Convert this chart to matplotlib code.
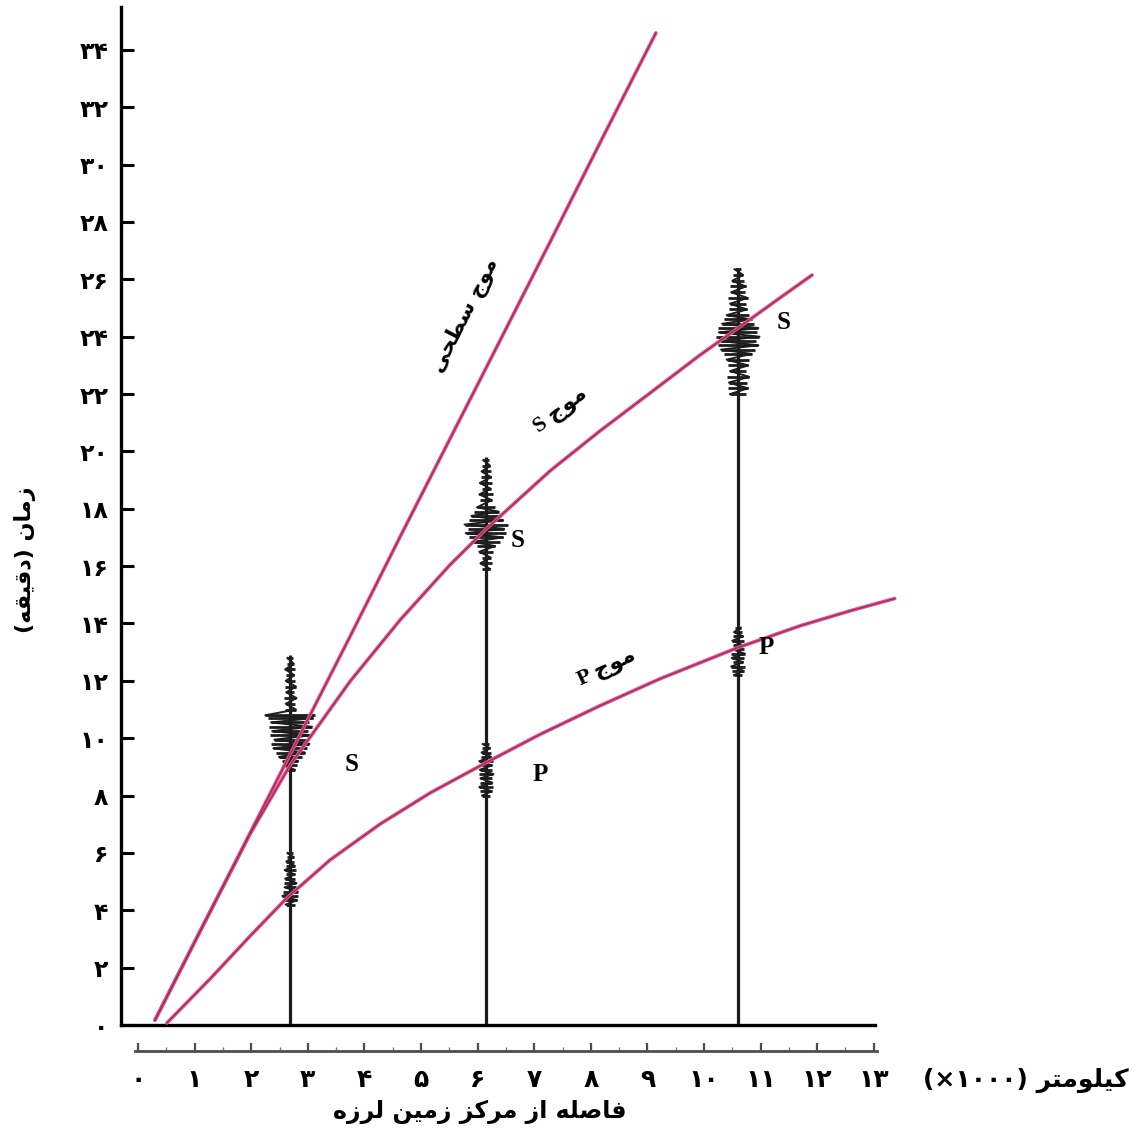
import matplotlib
matplotlib.use("Agg")
import matplotlib.pyplot as plt
from matplotlib.ticker import MultipleLocator

# ---- data (distance x1000 km, time in minutes) ----
surface_x = [0.30, 1.10, 1.98, 2.69, 3.75, 4.63, 5.51, 6.40, 7.28, 8.16, 9.15]
surface_t = [0.17, 3.28, 6.69, 9.45, 13.56, 17.02, 20.43, 23.88, 27.30, 30.75, 34.59]

s_x = [0.30, 1.10, 1.98, 2.69, 3.75, 4.63, 5.51, 6.17, 7.28, 8.16, 9.05, 9.93, 10.60, 11.34, 11.91]
s_t = [0.17, 3.28, 6.66, 9.07, 11.99, 14.12, 16.04, 17.33, 19.32, 20.71, 22.04, 23.36, 24.30, 25.35, 26.15]

p_x = [0.51, 1.27, 1.98, 2.63, 3.39, 4.28, 5.16, 6.17, 7.10, 8.16, 9.22, 10.60, 11.70, 12.58, 13.37]
p_t = [0.07, 1.60, 3.10, 4.43, 5.75, 7.01, 8.09, 9.17, 10.13, 11.13, 12.07, 13.16, 13.92, 14.44, 14.87]

# seismograph stations: distance, top of trace
station_x = [2.69, 6.15, 10.60]
station_top = [12.9, 19.8, 26.4]

# wiggle strokes of every trace: time level and half width
wig1_t = [4.2, 4.35, 4.5, 4.65, 4.8, 4.95, 5.1, 5.25, 5.4, 5.55, 5.7, 5.85, 6.0,
          8.9, 9.05, 9.2, 9.35, 9.5, 9.65, 9.8, 9.95, 10.1, 10.25, 10.4, 10.55, 10.7, 10.8,
          11.0, 11.2, 11.4, 11.6, 11.8, 12.0, 12.2, 12.4, 12.6, 12.8]
wig1_w = [0.08, 0.12, 0.14, 0.13, 0.10, 0.11, 0.09, 0.08, 0.10, 0.08, 0.07, 0.06, 0.05,
          0.08, 0.12, 0.14, 0.20, 0.26, 0.30, 0.34, 0.28, 0.36, 0.32, 0.38, 0.34, 0.40, 0.44,
          0.10, 0.08, 0.11, 0.07, 0.10, 0.08, 0.07, 0.09, 0.06, 0.05]

wig2_t = [8.0, 8.15, 8.3, 8.45, 8.6, 8.75, 8.9, 9.05, 9.2, 9.35, 9.5, 9.65, 9.8,
          15.9, 16.1, 16.3, 16.5, 16.7, 16.85, 17.0, 17.15, 17.3, 17.45, 17.6, 17.75, 17.9, 18.05,
          18.3, 18.5, 18.7, 18.9, 19.1, 19.3, 19.5, 19.7]
wig2_w = [0.07, 0.10, 0.12, 0.11, 0.10, 0.13, 0.11, 0.10, 0.12, 0.09, 0.08, 0.07, 0.06,
          0.07, 0.10, 0.08, 0.12, 0.16, 0.24, 0.30, 0.36, 0.32, 0.38, 0.30, 0.26, 0.22, 0.16,
          0.10, 0.12, 0.08, 0.11, 0.09, 0.08, 0.07, 0.05]

wig3_t = [12.2, 12.35, 12.5, 12.65, 12.8, 12.95, 13.1, 13.25, 13.4, 13.55, 13.7, 13.85,
          22.0, 22.2, 22.4, 22.6, 22.8, 23.0, 23.2, 23.4, 23.55, 23.7, 23.85, 24.0, 24.15,
          24.3, 24.45, 24.6, 24.75, 24.95, 25.15, 25.35, 25.55, 25.75, 25.95, 26.15, 26.35]
wig3_w = [0.07, 0.10, 0.12, 0.09, 0.11, 0.12, 0.10, 0.08, 0.10, 0.09, 0.07, 0.05,
          0.14, 0.18, 0.16, 0.20, 0.14, 0.18, 0.20, 0.24, 0.30, 0.36, 0.32, 0.38, 0.34,
          0.36, 0.28, 0.24, 0.20, 0.16, 0.14, 0.17, 0.12, 0.14, 0.10, 0.09, 0.06]

y_ticks = list(range(0, 35, 2))
x_ticks = list(range(0, 14))

# ---- Persian text helpers (shaping + visual order) ----
FORMS = {
    "ا": ("\uFE8D", "\uFE8E", None, None),
    "ب": ("\uFE8F", "\uFE90", "\uFE91", "\uFE92"),
    "ت": ("\uFE95", "\uFE96", "\uFE97", "\uFE98"),
    "ج": ("\uFE9D", "\uFE9E", "\uFE9F", "\uFEA0"),
    "ح": ("\uFEA1", "\uFEA2", "\uFEA3", "\uFEA4"),
    "د": ("\uFEA9", "\uFEAA", None, None),
    "ر": ("\uFEAD", "\uFEAE", None, None),
    "ز": ("\uFEAF", "\uFEB0", None, None),
    "س": ("\uFEB1", "\uFEB2", "\uFEB3", "\uFEB4"),
    "ص": ("\uFEB9", "\uFEBA", "\uFEBB", "\uFEBC"),
    "ط": ("\uFEC1", "\uFEC2", "\uFEC3", "\uFEC4"),
    "ف": ("\uFED1", "\uFED2", "\uFED3", "\uFED4"),
    "ق": ("\uFED5", "\uFED6", "\uFED7", "\uFED8"),
    "ک": ("\uFB8E", "\uFB8F", "\uFB90", "\uFB91"),
    "ل": ("\uFEDD", "\uFEDE", "\uFEDF", "\uFEE0"),
    "م": ("\uFEE1", "\uFEE2", "\uFEE3", "\uFEE4"),
    "ن": ("\uFEE5", "\uFEE6", "\uFEE7", "\uFEE8"),
    "و": ("\uFEED", "\uFEEE", None, None),
    "ه": ("\uFEE9", "\uFEEA", "\uFEEB", "\uFEEC"),
    "ی": ("\uFBFC", "\uFBFD", "\uFBFE", "\uFBFF"),
}
MIRROR = {"(": ")", ")": "("}
LTR = set("ABCDEFGHIJKLMNOPQRSTUVWXYZabcdefghijklmnopqrstuvwxyz0123456789۰۱۲۳۴۵۶۷۸۹")


def shape(word):
    out = []
    for i, c in enumerate(word):
        if c not in FORMS:
            out.append(c)
            continue
        iso, fin, ini, med = FORMS[c]
        prev = word[i - 1] if i > 0 else ""
        nxt = word[i + 1] if i < len(word) - 1 else ""
        jp = prev in FORMS and FORMS[prev][2] is not None
        jn = nxt in FORMS and ini is not None
        if jp and jn:
            out.append(med)
        elif jp:
            out.append(fin)
        elif jn:
            out.append(ini)
        else:
            out.append(iso)
    return "".join(out)


def fa(text):
    s = shape(text)
    runs = []
    for c in s:
        kind = c in LTR
        if runs and runs[-1][0] == kind:
            runs[-1][1] += c
        else:
            runs.append([kind, c])
    res = ""
    for kind, chunk in reversed(runs):
        if kind:
            res += chunk
        else:
            res += "".join(MIRROR.get(c, c) for c in reversed(chunk))
    return res


def fa_digits(n):
    return "".join("۰۱۲۳۴۵۶۷۸۹"[int(d)] for d in str(n))


PFONT = "DejaVu Sans"
LFONT = "Liberation Serif"
PINK = "#e2508a"
CORE = "#962a58"
INK = "#1c1c1c"

# ---- layout ----
W, H = 1138, 1137
fig = plt.figure(figsize=(W / 100, H / 100), dpi=100)

x_left, x_right = (121 - 138) / 56.6, (895 - 138) / 56.6
ax = fig.add_axes([121 / W, 1 - 1025 / H, (895 - 121) / W, (1025 - 7) / H])
ax.set_xlim(x_left, x_right)
ax.set_ylim(0, (1025 - 7) / 28.68)

for name in ["top", "right"]:
    ax.spines[name].set_visible(False)
ax.spines["left"].set_linewidth(2.4)
ax.spines["bottom"].set_linewidth(2.4)
ax.spines["bottom"].set_bounds(x_left, (875 - 138) / 56.6)

ax.set_xticks([])
ax.set_yticks(y_ticks)
ax.set_yticklabels([fa_digits(v) for v in y_ticks], fontfamily=PFONT,
                   fontweight="bold", fontsize=17)
ax.tick_params(axis="y", direction="in", length=9, width=2.2, pad=9)

# travel-time curves
for xs, ts in [(surface_x, surface_t), (s_x, s_t), (p_x, p_t)]:
    ax.plot(xs, ts, color=PINK, lw=2.6, zorder=3, clip_on=False, solid_capstyle="round")
    ax.plot(xs, ts, color=CORE, lw=0.8, zorder=3.1, clip_on=False)

# seismograph traces
ax.vlines(station_x, 0, station_top, color=INK, lw=2.3, zorder=2)
for sx, wt, ww in [(station_x[0], wig1_t, wig1_w),
                   (station_x[1], wig2_t, wig2_w),
                   (station_x[2], wig3_t, wig3_w)]:
    ax.hlines(wt, [sx - w for w in ww], [sx + w for w in ww],
              color=INK, lw=2.0, zorder=2)
    # zigzag pen stroke, broken where bursts are far apart
    seg_x, seg_t = [], []
    for i, (t, w) in enumerate(zip(wt, ww)):
        if seg_t and t - seg_t[-1] > 0.5:
            ax.plot(seg_x, seg_t, color=INK, lw=1.4, zorder=2)
            seg_x, seg_t = [], []
        seg_x.append(sx + w if i % 2 else sx - w)
        seg_t.append(t)
    ax.plot(seg_x, seg_t, color=INK, lw=1.4, zorder=2)

# arrival letters
for lx, ly, s in [(3.78, 9.07, "S"), (6.71, 16.91, "S"), (11.40, 24.48, "S"),
                  (7.10, 8.72, "P"), (11.10, 13.15, "P")]:
    ax.text(lx, ly, s, fontfamily=LFONT, fontweight="bold", fontsize=18,
            ha="center", va="center", zorder=4)

# curve names
mixed = [LFONT, PFONT]
ax.text(5.78, 24.76, fa("موج سطحی"), rotation=63, fontfamily=PFONT,
        fontweight="bold", fontsize=15, ha="center", va="center")
ax.text(7.46, 21.44, fa("موج S"), rotation=37, fontfamily=mixed,
        fontweight="bold", fontsize=16, ha="center", va="center")
ax.text(8.29, 12.45, fa("موج P"), rotation=25, fontfamily=mixed,
        fontweight="bold", fontsize=16, ha="center", va="center")

# distance ruler under the plot
rx = fig.add_axes([121 / W, 1 - 1051 / H, (895 - 121) / W, 0.01])
rx.set_xlim(x_left, x_right)
rx.set_ylim(0, 1)
rx.patch.set_alpha(0)
for name in ["top", "right", "left"]:
    rx.spines[name].set_visible(False)
rx.spines["bottom"].set_color("#4d4d4d")
rx.spines["bottom"].set_linewidth(2.0)
rx.spines["bottom"].set_bounds(-0.05, 13.05)
rx.set_yticks([])
rx.set_xticks(x_ticks)
rx.set_xticklabels([fa_digits(v) for v in x_ticks], fontfamily=PFONT,
                   fontweight="bold", fontsize=18)
rx.xaxis.set_minor_locator(MultipleLocator(0.5))
rx.tick_params(axis="x", which="major", direction="in", length=6, width=1.6,
               color="#4d4d4d", pad=12)
rx.tick_params(axis="x", which="minor", direction="in", length=3, width=1.0,
               color="#777777")

# axis titles
fig.text(25 / W, 1 - 560 / H, fa("زمان (دقیقه)"), rotation=90, fontfamily=PFONT,
         fontweight="bold", fontsize=16, ha="center", va="center")
fig.text(480 / W, 1 - 1112 / H, fa("فاصله از مرکز زمین لرزه"), fontfamily=PFONT,
         fontweight="bold", fontsize=17, ha="center", va="center")
fig.text(1026 / W, 1 - 1080 / H, "(×۱۰۰۰) " + fa("کیلومتر"), fontfamily=PFONT,
         fontweight="bold", fontsize=18, ha="center", va="center")

fig.savefig("out.png", dpi=100)
